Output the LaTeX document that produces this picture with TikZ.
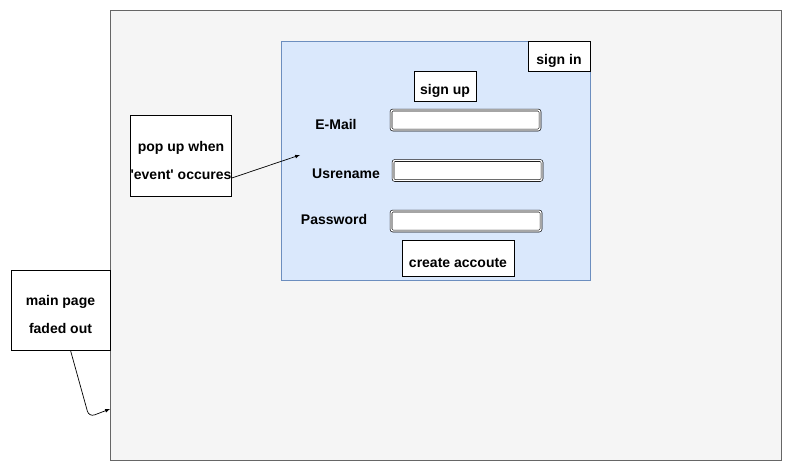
\documentclass[tikz,border=0pt]{standalone}
\usepackage{fontspec}
\setmainfont{Liberation Sans}
\usetikzlibrary{positioning}
\definecolor{pagegray}{HTML}{F5F5F5}
\definecolor{pageline}{HTML}{666666}
\definecolor{popfill}{HTML}{DAE8FC}
\definecolor{popline}{HTML}{6C8EBF}
\newcommand{\lowerline}{\rule{0pt}{20pt}}
\tikzset{
  outline/.style={draw, fill=white, line width=0.8pt, inner sep=0pt, font=\bfseries\fontsize{14}{28}\selectfont},
  box/.style={outline, text height=19pt},
  notebox/.style={outline, align=center},
  label/.style={inner sep=0pt, font=\bfseries\fontsize{14}{16}\selectfont},
  field/.style={draw, fill=white, double, double distance=1.3pt, line width=0.6pt, rounded corners=2pt, inner sep=0pt}
}
\begin{document}
\begin{tikzpicture}[x=1pt, y=-1pt]
            \useasboundingbox (0,0) rectangle (791,471);

            % faded main page and pop up window
            \draw[pageline, fill=pagegray] (110,10) rectangle (781,460);
            \draw[popline, fill=popfill] (281,41) rectangle (590,280);

            % buttons
            \node[box, minimum width=62, minimum height=30] (signin) at (559,56) {sign in};
            \node[box, minimum width=62, minimum height=30] (signup) at (445,86) {sign up};
            \node[box, minimum width=112, minimum height=36] (create) at (458,258) {create accoute};

            % labels and input fields
            \node[label] (mail) at (336,124) {E-Mail};
            \node[label] (user) at (346,174) {Usrename};
            \node[label] (pass) at (334,219) {Password};
            \node[field, minimum width=149, minimum height=20] (mailfield) at (465.5,120) {};
            \node[field, minimum width=149, minimum height=20] (userfield) at (467.5,170.5) {};
            \node[field, minimum width=150, minimum height=20] (passfield) at (466,221) {};

            % notes
            \node[notebox, minimum width=100, minimum height=81] (popnote) at (181,155.5) {\lowerline pop up when\\\textquotesingle event\textquotesingle\ occures};
            \node[notebox, minimum width=99, minimum height=80] (fadenote) at (60.5,310) {\lowerline main page\\faded out};

            % arrows from the notes
            \coordinate (popin) at (300,155);
            \coordinate (bend) at (89,417);
            \coordinate (pagein) at (110,409);
            \draw[-latex, line width=0.7pt] (popnote.east |- 0,178) -- (popin);
            \draw[-latex, line width=0.7pt, rounded corners=6pt] ([xshift=10]fadenote.south) -- (bend) -- (pagein);
        \end{tikzpicture}
\end{document}
